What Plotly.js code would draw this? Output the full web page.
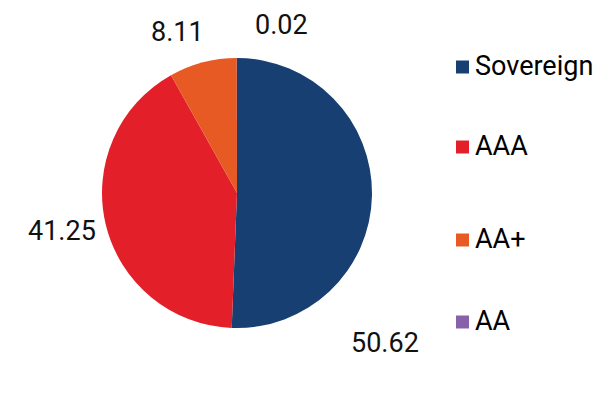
<!DOCTYPE html>
<html>
<head>
<meta charset="utf-8">
<script src="https://cdn.plot.ly/plotly-3.0.1.min.js"></script>
<style>html,body{margin:0;padding:0;background:#fff;}#chart{width:612px;height:394px;}</style>
</head>
<body>
<div id="chart"></div>
<script>
var categories = ["Sovereign", "AAA", "AA+", "AA"];
var values = [50.62, 41.25, 8.11, 0.02];
var colors = ["#173F71", "#E3202A", "#E75A24", "#8862A9"];

var W = 612, H = 394;
function px(x){ return x / W; }
function py(y){ return 1 - y / H; }

// value label positions (pixels) and legend row positions
var labelPos = [[385, 343], [62, 231], [177, 32], [281, 25]];
var legendRows = [66, 146, 239, 321];

var trace = {
  type: "pie",
  labels: categories,
  values: values,
  sort: false,
  direction: "clockwise",
  rotation: 0,
  textinfo: "none",
  hoverinfo: "label+value",
  marker: { colors: colors, line: { width: 0 } },
  domain: { x: [102 / W, 372 / W], y: [1 - 328 / H, 1 - 58 / H] },
  showlegend: false
};

var annotations = [];
var shapes = [];
for (var i = 0; i < categories.length; i++) {
  annotations.push({
    xref: "paper", yref: "paper",
    x: px(labelPos[i][0]), y: py(labelPos[i][1]),
    xanchor: "center", yanchor: "middle",
    text: values[i].toFixed(2), showarrow: false,
    font: { family: "Roboto, sans-serif", size: 27, color: "#111" }
  });
  annotations.push({
    xref: "paper", yref: "paper",
    x: px(473), y: py(legendRows[i]),
    xanchor: "left", yanchor: "middle",
    text: categories[i], showarrow: false,
    font: { family: "Roboto, sans-serif", size: 27, color: "#000" }
  });
  shapes.push({
    type: "rect", xref: "paper", yref: "paper",
    x0: px(456), x1: px(469),
    y0: py(legendRows[i] + 1 + 6.5), y1: py(legendRows[i] + 1 - 6.5),
    fillcolor: colors[i], line: { width: 0 }
  });
}

var layout = {
  width: W, height: H,
  margin: { l: 0, r: 0, t: 0, b: 0 },
  paper_bgcolor: "#fff",
  plot_bgcolor: "#fff",
  showlegend: false,
  annotations: annotations,
  shapes: shapes
};

Plotly.newPlot("chart", [trace], layout, { displayModeBar: false, staticPlot: true });
</script>
</body>
</html>
